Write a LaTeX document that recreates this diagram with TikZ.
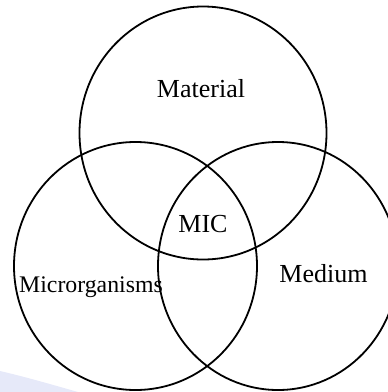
\documentclass[tikz,border=0pt]{standalone}
\usepackage{fontspec}
\setmainfont{Liberation Serif}
\begin{document}
\begin{tikzpicture}[x=1pt,y=-1pt,
  ring/.style={draw=black,line width=1.8pt},
  lbl/.style={inner sep=0pt,anchor=base,font=\fontsize{26}{30}\selectfont},
  lblsmall/.style={inner sep=0pt,anchor=base,font=\fontsize{23.8}{28}\selectfont}]
\useasboundingbox (0,0) rectangle (388,392);
\definecolor{lav}{RGB}{230,233,249}
\fill[lav] (0,392) -- (0,371) .. controls (22,376) and (50,384) .. (78,392) -- cycle;
\draw[ring] (203,133) ellipse [x radius=123.5, y radius=126.5];
\draw[ring] (135.5,266) ellipse [x radius=121.5, y radius=124];
\draw[ring] (278,266) ellipse [x radius=120, y radius=124];
\node[lbl] (mat) at (201,97) {Material};
\node[lbl] (mic) at (203,232) {MIC};
\node[lbl] (med) at (323.5,282) {Medium};
\node[lblsmall] (mo) at (91,292) {Microrganisms};
\end{tikzpicture}
\end{document}
